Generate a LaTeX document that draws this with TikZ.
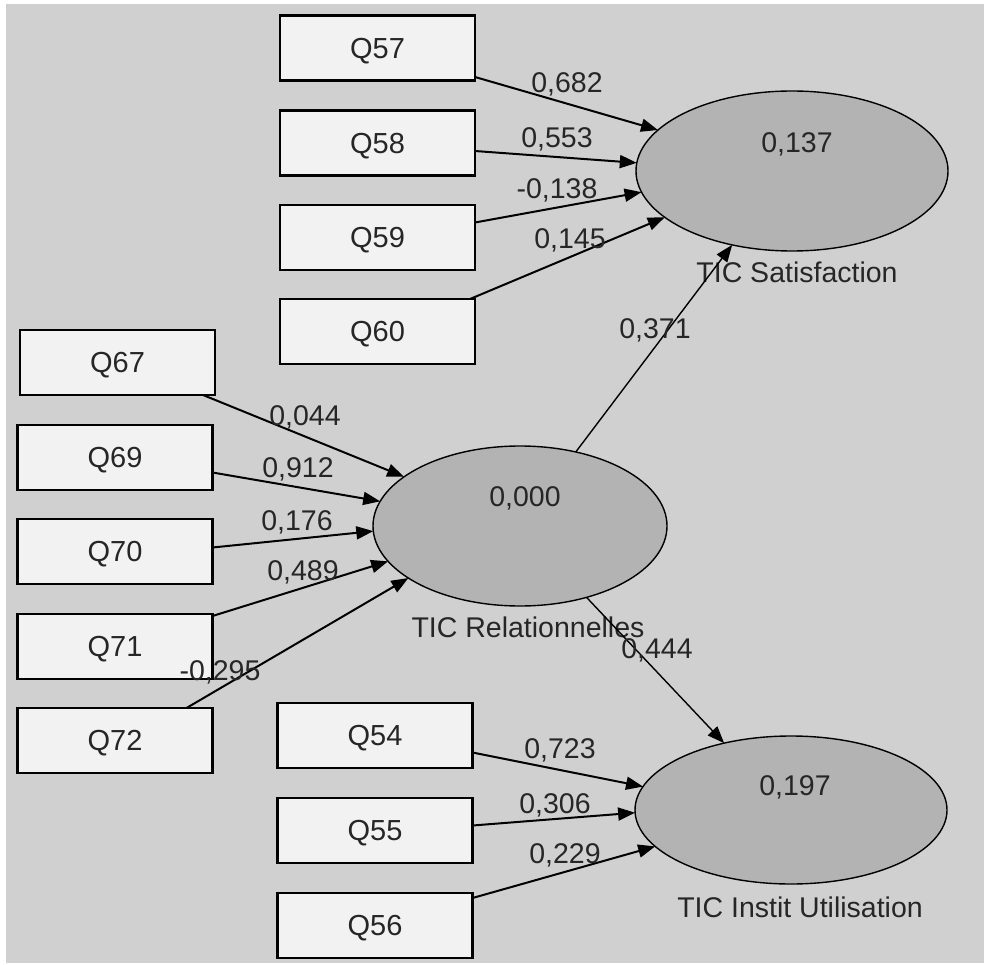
\documentclass[tikz,border=0pt]{standalone}
\usepackage{fontspec}
\setmainfont{Liberation Sans}
\usetikzlibrary{shapes.geometric,arrows.meta,calc}
\definecolor{bggray}{HTML}{D0D0D0}
\definecolor{boxfill}{HTML}{F2F2F2}
\definecolor{ellfill}{HTML}{B3B3B3}
\definecolor{txt}{HTML}{262626}
\tikzset{
  qbox/.style={draw=black, line width=2.5pt, fill=boxfill, minimum width=195pt, minimum height=65pt, inner sep=0pt, outer sep=0pt, font=\fontsize{29}{30}\selectfont, text=txt, text height=20.8pt, text depth=0pt},
  lv/.style={draw=black, line width=1.4pt, fill=ellfill, ellipse, inner sep=0pt, outer sep=0pt},
  lbl/.style={inner sep=0pt, font=\fontsize{28.5}{30}\selectfont, text=txt, text height=20.4pt, text depth=0pt},
  arr/.style={line width=2pt, -{Triangle[length=17pt,width=13pt]}},
  arrthin/.style={line width=1.4pt, -{Triangle[length=17pt,width=13pt]}},
}
\begin{document}
\begin{tikzpicture}[x=1pt,y=-1pt]
\useasboundingbox (0,0) rectangle (984,965);
\fill[white] (0,0) rectangle (984,965);
\fill[bggray] (6,4) rectangle (984,963);
% boxes
\node[qbox] (q57) at (377.5,48) {Q57};
\node[qbox] (q58) at (377.5,143) {Q58};
\node[qbox] (q59) at (377.5,237.5) {Q59};
\node[qbox] (q60) at (377.5,331.5) {Q60};
\node[qbox] (q67) at (117.5,362.5) {Q67};
\node[qbox] (q69) at (115,457.5) {Q69};
\node[qbox] (q70) at (115,551.5) {Q70};
\node[qbox] (q71) at (115,646.5) {Q71};
\node[qbox] (q72) at (115,740.5) {Q72};
\node[qbox] (q54) at (375,735.5) {Q54};
\node[qbox] (q55) at (375,830.5) {Q55};
\node[qbox] (q56) at (375,925.5) {Q56};
% latent variables
\node[lv, minimum width=312pt, minimum height=160pt] (sat) at (792,171) {};
\node[lv, minimum width=294pt, minimum height=160pt] (rel) at (520,526) {};
\node[lv, minimum width=312pt, minimum height=148pt] (ins) at (791,810) {};
\node[lbl] (satv) at (797,142) {0,137};
\node[lbl] (satn) at (797,272) {TIC Satisfaction};
\node[lbl] (relv) at (525,496) {0,000};
\node[lbl] (reln) at (528,627) {TIC Relationnelles};
\node[lbl] (insv) at (795,785) {0,197};
\node[lbl] (insn) at (800,907) {TIC Instit Utilisation};
% arrows to satisfaction
\draw[arr] ($(q57.east)+(0,29)$) -- (sat.163.6);
\draw[arr] ($(q58.east)+(0,8)$) -- (sat.177);
\draw[arr] ($(q59.east)+(0,-15)$) -- (sat.188);
\draw[arr] ($(q60.north east)+(-5,0)$) -- (sat.200);
% arrows to relationnelles
\draw[arr] ($(q67.south east)+(-12,0)$) -- (rel.157.4);
\draw[arr] ($(q69.east)+(0,15)$) -- (rel.170.7);
\draw[arr] ($(q70.east)+(0,-4)$) -- (rel.182.3);
\draw[arr] ($(q71.north east)+(0,2)$) -- (rel.195.5);
\draw[arr] ($(q72.north east)+(-26,0)$) -- (rel.205.7);
% arrows to instit
\draw[arr] ($(q54.east)+(0,17)$) -- (ins.171);
\draw[arr] ($(q55.east)+(0,-5)$) -- (ins.181.8);
\draw[arr] ($(q56.north east)+(0,5)$) -- (ins.195);
% structural paths
\draw[arrthin] (rel.53) -- (sat.231);
\draw[arrthin] (rel.313.4) -- (ins.135);
% path coefficients
\node[lbl] (l682) at (567,82) {0,682};
\node[lbl] (l553) at (557,137) {0,553};
\node[lbl] (l138) at (557,188) {-0,138};
\node[lbl] (l145) at (570,238) {0,145};
\node[lbl] (l371) at (655,328) {0,371};
\node[lbl] (l044) at (305,415) {0,044};
\node[lbl] (l912) at (298,467) {0,912};
\node[lbl] (l176) at (297,520) {0,176};
\node[lbl] (l489) at (303,570) {0,489};
\node[lbl] (l295) at (220,670) {-0,295};
\node[lbl] (l444) at (657,648) {0,444};
\node[lbl] (l723) at (560,748) {0,723};
\node[lbl] (l306) at (555,803) {0,306};
\node[lbl] (l229) at (565,853) {0,229};
\end{tikzpicture}
\end{document}
